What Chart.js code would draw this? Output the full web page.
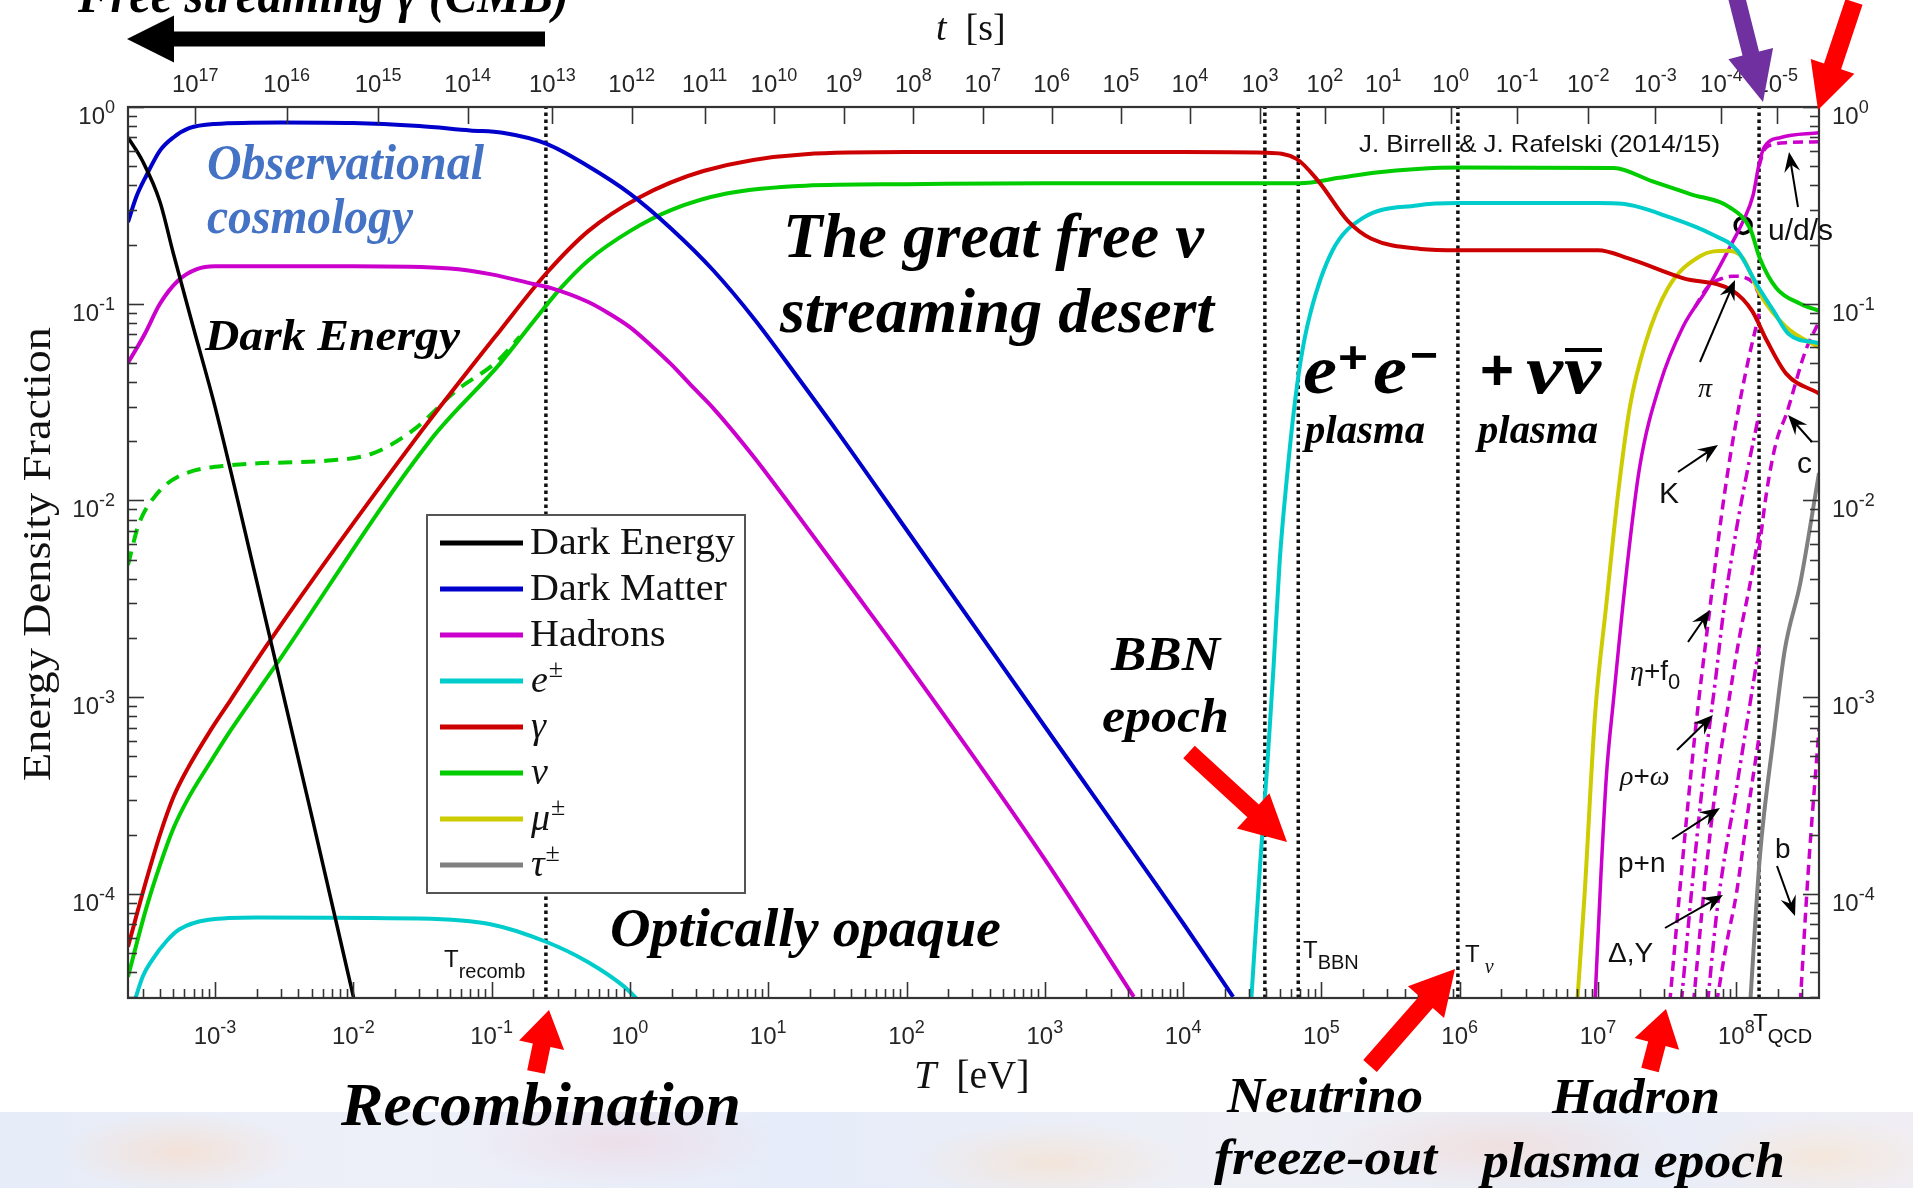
<!DOCTYPE html>
<html>
<head>
<meta charset="utf-8">
<title>Energy density fraction of the Universe</title>
<script src="https://cdn.jsdelivr.net/npm/chart.js@4.4.1/dist/chart.umd.min.js"></script>
<style>
  html, body { margin: 0; padding: 0; background: #fff; }
  #wrap { position: relative; width: 1913px; height: 1188px; overflow: hidden; }
  #cmb { position: absolute; left: 0; top: 1112px; width: 1913px; height: 76px;
    background:
      radial-gradient(ellipse 120px 40px at 180px 40px, rgba(250,215,190,0.55), rgba(250,215,190,0) 100%),
      radial-gradient(ellipse 160px 45px at 620px 30px, rgba(240,205,215,0.45), rgba(240,205,215,0) 100%),
      radial-gradient(ellipse 140px 40px at 1050px 50px, rgba(250,220,190,0.5), rgba(250,220,190,0) 100%),
      radial-gradient(ellipse 180px 45px at 1500px 35px, rgba(245,210,200,0.5), rgba(245,210,200,0) 100%),
      radial-gradient(ellipse 120px 40px at 1820px 45px, rgba(250,225,195,0.5), rgba(250,225,195,0) 100%),
      linear-gradient(90deg, #e6ecf8 0%, #eef0f8 20%, #e6ecf9 42%, #eff0f6 66%, #e8edf8 84%, #f0eef4 100%); }
  #chart { position: absolute; left: 0; top: 0; }
</style>
</head>
<body>
<div id="wrap">
  <div id="cmb"></div>
  <canvas id="chart" width="1913" height="1188"></canvas>
</div>
<script>
const SANS = '"Liberation Sans", Arial, sans-serif';
const SERIF = '"Liberation Serif", "Times New Roman", serif';

// axis ranges
const tMin = 2.35e-4, tMax = 3.96e8;
const fMin = 2.96e-5, fMax = 1;

// tick labels (exponents of ten)
const xExps = [-3, -2, -1, 0, 1, 2, 3, 4, 5, 6, 7, 8];
const yExps = [0, -1, -2, -3, -4];
// time axis: t = 10^exp seconds, placed at temperature T (eV)
const timeExps = [17, 16, 15, 14, 13, 12, 11, 10, 9, 8, 7, 6, 5, 4, 3, 2, 1, 0, -1, -2, -3, -4, -5];
const timeAtT = [7.2e-4, 3.3e-3, 0.0151, 0.067, 0.275, 1.03, 3.47, 11, 35.3, 112, 356, 1120, 3550,
  1.12e4, 3.6e4, 1.06e5, 2.8e5, 8.6e5, 2.6e6, 8.5e6, 2.6e7, 7.8e7, 1.96e8];

// epoch markers (T in eV)
const markT = [0.247, 3.9e4, 6.8e4, 9.7e5, 1.46e8];

// Dark energy
const deT = [2.35e-4, 3e-4, 4e-4, 5e-4, 7e-4, 1e-3, 2e-3, 5e-3, 1.05e-2];
const deY = [0.70, 0.53, 0.33, 0.18, 0.075, 0.030, 0.0039, 2.5e-4, 2.6e-5];

// Dark matter
const dmT = [2.35e-4, 2.7e-4, 3.2e-4, 4e-4, 5e-4, 6.5e-4, 1e-3, 3e-3, 0.01, 0.03, 0.07, 0.12, 0.25, 0.5, 1, 2, 4, 8, 15.8, 31.6, 100, 1e3, 1e4, 2.3e4];
const dmY = [0.26, 0.35, 0.45, 0.60, 0.70, 0.78, 0.82, 0.835, 0.83, 0.80, 0.76, 0.74, 0.65, 0.50, 0.363, 0.24, 0.148, 0.083, 0.0437, 0.0224, 7.1e-3, 7.1e-4, 7.1e-5, 3e-5];

// Hadrons (late universe)
const hadT = [2.35e-4, 3.1e-4, 4e-4, 5.4e-4, 7.4e-4, 1e-3, 0.01, 0.05, 0.1, 0.2, 0.27, 0.5, 0.71, 1, 1.41, 2, 2.82, 4, 7.9, 15.8, 40, 100, 1e3, 4.4e3];
const hadY = [0.05, 0.07, 0.10, 0.131, 0.15, 0.155, 0.155, 0.151, 0.141, 0.126, 0.12, 0.102, 0.089, 0.076, 0.0617, 0.049, 0.038, 0.0295, 0.0166, 8.7e-3, 3.6e-3, 1.5e-3, 1.5e-4, 3e-5];

// e+- (late, residual electrons)
const eLowT = [2.6e-4, 3e-4, 3.5e-4, 4.5e-4, 5.5e-4, 9e-4, 2e-3, 0.03, 0.1, 0.25, 0.5, 0.9, 1.2];
const eLowY = [2.8e-5, 3.8e-5, 4.6e-5, 5.8e-5, 6.6e-5, 7.4e-5, 7.6e-5, 7.5e-5, 7e-5, 5.7e-5, 4.5e-5, 3.4e-5, 2.8e-5];

// e+- (plasma)
const eHiT = [3.1e4, 3.6e4, 4.1e4, 4.5e4, 5e4, 5.6e4, 6.3e4, 7.1e4, 8.3e4, 1.2e5, 2e5, 4.9e5, 1e6, 1e7, 1.5e7, 3.4e7, 6.6e7, 1.02e8, 1.41e8, 1.86e8, 2.4e8, 3.96e8];
const eHiY = [2.8e-5, 1.4e-4, 5e-4, 1.4e-3, 5e-3, 0.0126, 0.028, 0.052, 0.089, 0.186, 0.273, 0.316, 0.325, 0.325, 0.322, 0.273, 0.226, 0.186, 0.125, 0.092, 0.07, 0.063];

// photons
const gamT = [2.35e-4, 3.16e-4, 4e-4, 5e-4, 6.3e-4, 9.3e-4, 1.3e-3, 2.45e-3, 0.0277, 0.115, 0.247, 0.5, 1.15, 3.4, 18.6, 100, 1e3, 1e4, 3.9e4, 6.6e4, 9.5e4, 1.55e5, 2.3e5, 5.2e5, 1e6, 1e7, 1.66e7, 4.1e7, 9.5e7, 1.3e8, 1.66e8, 2.3e8, 3.96e8];
const gamY = [5.4e-5, 1.15e-4, 2e-4, 3.1e-4, 4.3e-4, 6.8e-4, 9.7e-4, 1.9e-3, 0.0202, 0.073, 0.142, 0.234, 0.345, 0.473, 0.576, 0.59, 0.59, 0.59, 0.586, 0.545, 0.42, 0.264, 0.214, 0.19, 0.187, 0.187, 0.17, 0.135, 0.116, 0.092, 0.065, 0.044, 0.035];

// neutrinos
const nuT = [2.35e-4, 3.16e-4, 4e-4, 5e-4, 6.3e-4, 9.3e-4, 1.3e-3, 2.65e-3, 0.036, 0.115, 0.2, 0.316, 0.5, 1, 2, 5, 18.6, 100, 1e3, 1e4, 7e4, 1.35e5, 2.5e5, 4.9e5, 1e6, 1.3e7, 2.45e7, 4.7e7, 8.9e7, 1.26e8, 1.48e8, 1.95e8, 2.9e8, 3.96e8];
const nuY = [3.8e-5, 8.3e-5, 1.4e-4, 2.15e-4, 3.0e-4, 4.7e-4, 6.8e-4, 1.4e-3, 0.0202, 0.0496, 0.081, 0.12, 0.166, 0.234, 0.30, 0.363, 0.398, 0.405, 0.41, 0.41, 0.41, 0.437, 0.465, 0.484, 0.492, 0.49, 0.42, 0.36, 0.31, 0.24, 0.17, 0.12, 0.10, 0.092];

// neutrinos with mass (dashed)
const nuMT = [2.35e-4, 2.8e-4, 3.8e-4, 5.4e-4, 1.3e-3, 7e-3, 0.014, 0.028, 0.055, 0.11, 0.16];
const nuMY = [4.7e-3, 7.5e-3, 0.0108, 0.0132, 0.0151, 0.016, 0.0174, 0.0232, 0.036, 0.051, 0.068];

// muons
const muT = [7.07e6, 8e6, 9.5e6, 1.15e7, 1.4e7, 1.7e7, 2.2e7, 3.2e7, 5.5e7, 8.5e7, 1.12e8, 1.48e8, 2.3e8, 3.96e8];
const muY = [2.8e-5, 1e-4, 8e-4, 3e-3, 0.011, 0.03, 0.063, 0.12, 0.175, 0.186, 0.17, 0.112, 0.076, 0.06];

// taus
const tauT = [1.26e8, 1.48e8, 1.86e8, 2.24e8, 2.9e8, 3.96e8];
const tauY = [2.8e-5, 1.55e-4, 6.3e-4, 1.74e-3, 3.8e-3, 0.0138];

// hadrons / quarks (early universe)
const hqT = [9.5e6, 1.05e7, 1.15e7, 1.29e7, 1.62e7, 2e7, 2.8e7, 4.1e7, 6.2e7, 9.5e7, 1.12e8, 1.32e8, 1.45e8, 1.58e8, 2.1e8, 3.96e8];
const hqY = [2.8e-5, 1.26e-4, 4e-4, 9.5e-4, 4.6e-3, 0.0148, 0.039, 0.076, 0.12, 0.209, 0.263, 0.355, 0.5, 0.62, 0.70, 0.74];

// hadron species (dashed)
const piT = [5e7, 6.3e7, 8e7, 9.5e7, 1.15e8, 1.32e8, 1.46e8];
const piY = [0.096, 0.123, 0.135, 0.138, 0.136, 0.128, 0.112];
const kT = [3.3e7, 4e7, 5e7, 6.3e7, 7.9e7, 9.3e7, 1.17e8, 1.46e8];
const kY = [2.8e-5, 1.26e-4, 6.3e-4, 2.5e-3, 8.9e-3, 0.019, 0.045, 0.089];
const etaT = [4e7, 4.8e7, 5.9e7, 7.1e7, 8.1e7, 1e8, 1.2e8, 1.46e8];
const etaY = [2.8e-5, 1.12e-4, 4.5e-4, 1.26e-3, 2.75e-3, 7.1e-3, 0.0141, 0.0275];
const rhoT = [4.9e7, 5.9e7, 7.1e7, 8.5e7, 1.05e8, 1.26e8, 1.46e8];
const rhoY = [2.8e-5, 1.12e-4, 3.5e-4, 8.1e-4, 2e-3, 3.8e-3, 6.8e-3];
const pnT = [6.2e7, 7.2e7, 8.3e7, 9.5e7, 1.15e8, 1.46e8];
const pnY = [2.8e-5, 7.9e-5, 1.6e-4, 2.75e-4, 6.3e-4, 1.8e-3];
const delT = [7.2e7, 8.5e7, 1e8, 1.2e8, 1.46e8];
const delY = [2.8e-5, 5.6e-5, 1e-4, 2.5e-4, 6.3e-4];

// quark species (dashed)
const udsT = [1.46e8, 1.58e8, 1.86e8, 2.4e8, 3.96e8];
const udsY = [0.5, 0.6, 0.645, 0.66, 0.665];
const cT = [1.46e8, 1.66e8, 1.95e8, 2.3e8, 3.16e8, 3.96e8];
const cY = [5.6e-3, 0.0112, 0.02, 0.0275, 0.0575, 0.081];
const bT = [2.9e8, 3.3e8, 3.96e8];
const bY = [2.8e-5, 1.26e-4, 6.9e-4];

// QCD transition point marker
const qcdPointT = 1.12e8, qcdPointY = 0.25;

const C = {de: '#000000', dm: '#0000cc', had: '#cc00cc', ee: '#00cccc', gam: '#cc0000', nu: '#00cc00', mu: '#cccc00', tau: '#808080'};

function pts(xs, ys) { return xs.map((x, i) => ({x: x, y: ys[i]})); }

function curve(label, xs, ys, color, dash, width) {
  return {
    type: 'line', label: label, data: pts(xs, ys),
    borderColor: color, borderWidth: width || 4, borderDash: dash || [],
    pointRadius: 0, fill: false, cubicInterpolationMode: 'monotone'
  };
}

const dsets = [
  curve('Dark Energy', deT, deY, C.de, [], 3.5),
  curve('Dark Matter', dmT, dmY, C.dm),
  curve('Hadrons', hadT, hadY, C.had),
  curve('e±', eLowT, eLowY, C.ee),
  curve('γ', gamT, gamY, C.gam),
  curve('ν', nuT, nuY, C.nu),
  curve('ν massive', nuMT, nuMY, C.nu, [14, 9]),
  curve('e± plasma', eHiT, eHiY, C.ee),
  curve('μ±', muT, muY, C.mu),
  curve('τ±', tauT, tauY, C.tau),
  curve('hadrons/quarks', hqT, hqY, C.had, [], 3.5),
  curve('π', piT, piY, C.had, [10, 6], 3.5),
  curve('K', kT, kY, C.had, [10, 6], 3.5),
  curve('η+f0', etaT, etaY, C.had, [12, 5, 3, 5], 3.5),
  curve('ρ+ω', rhoT, rhoY, C.had, [10, 6], 3.5),
  curve('p+n', pnT, pnY, C.had, [12, 5, 3, 5], 3.5),
  curve('Δ,Y', delT, delY, C.had, [10, 6], 3.5),
  curve('u/d/s', udsT, udsY, C.had, [10, 6], 3.5),
  curve('c', cT, cY, C.had, [10, 6], 3.5),
  curve('b', bT, bY, C.had, [10, 6], 3.5)
];
markT.forEach(t => {
  dsets.push({type: 'line', label: 'marker', data: [{x: t, y: fMin}, {x: t, y: fMax}],
    borderColor: '#111', borderWidth: 3.5, borderDash: [3.5, 3.5], pointRadius: 0, tension: 0});
});
dsets.push({type: 'scatter', label: 'QCD', data: [{x: qcdPointT, y: qcdPointY}],
  pointRadius: 8, pointBorderWidth: 3.5, pointBorderColor: '#000', pointBackgroundColor: 'rgba(0,0,0,0)'});

// ---------- drawing helpers ----------
function text(ctx, s, x, y, font, color, w, align) {
  ctx.save();
  ctx.font = font;
  ctx.fillStyle = color || '#000';
  ctx.textBaseline = 'alphabetic';
  ctx.textAlign = 'left';
  const m = ctx.measureText(s).width;
  const k = w ? w / m : 1;
  const x0 = align === 'center' ? x - m * k / 2 : align === 'right' ? x - m * k : x;
  ctx.translate(x0, y);
  ctx.scale(k, 1);
  ctx.fillText(s, 0, 0);
  ctx.restore();
  return x0 + m * k;
}

function runs(ctx, x, y, list, color) {
  let cx = x;
  list.forEach(r => { cx = text(ctx, r[0], cx, y + (r[2] || 0), r[1], color); });
  return cx;
}

function pow10(ctx, exp, x, y, align) {
  const f1 = '24px ' + SANS, f2 = '18px ' + SANS;
  ctx.font = f1; const w1 = ctx.measureText('10').width;
  ctx.font = f2; const w2 = ctx.measureText(exp).width;
  const tot = w1 + w2;
  const x0 = align === 'center' ? x - tot / 2 : align === 'right' ? x - tot : x;
  text(ctx, '10', x0, y, f1, '#262626');
  text(ctx, exp, x0 + w1, y - 11, f2, '#262626');
}

function fatArrow(ctx, x1, y1, x2, y2, sw, hw, hl, color) {
  const a = Math.atan2(y2 - y1, x2 - x1), L = Math.hypot(x2 - x1, y2 - y1);
  ctx.save();
  ctx.translate(x1, y1); ctx.rotate(a);
  ctx.beginPath();
  ctx.moveTo(0, -sw / 2); ctx.lineTo(L - hl, -sw / 2); ctx.lineTo(L - hl, -hw / 2);
  ctx.lineTo(L, 0); ctx.lineTo(L - hl, hw / 2); ctx.lineTo(L - hl, sw / 2); ctx.lineTo(0, sw / 2);
  ctx.closePath();
  ctx.fillStyle = color; ctx.fill();
  ctx.restore();
}

function thinArrow(ctx, x1, y1, x2, y2) {
  const a = Math.atan2(y2 - y1, x2 - x1);
  ctx.save();
  ctx.strokeStyle = '#000'; ctx.fillStyle = '#000'; ctx.lineWidth = 2;
  ctx.beginPath(); ctx.moveTo(x1, y1); ctx.lineTo(x2 - 10 * Math.cos(a), y2 - 10 * Math.sin(a)); ctx.stroke();
  ctx.translate(x2, y2); ctx.rotate(a);
  ctx.beginPath(); ctx.moveTo(0, 0); ctx.lineTo(-20, -8); ctx.lineTo(-13, 0); ctx.lineTo(-20, 8); ctx.closePath(); ctx.fill();
  ctx.restore();
}

const legendNames = ['Dark Energy', 'Dark Matter', 'Hadrons', 'e', 'γ', 'ν', 'μ', 'τ'];
const legendSup = ['', '', '', '±', '', '', '±', '±'];
const legendColors = [C.de, C.dm, C.had, C.ee, C.gam, C.nu, C.mu, C.tau];

const decor = {
  id: 'decor',
  afterDatasetsDraw(chart) {
    const ctx = chart.ctx, a = chart.chartArea;
    const xs = chart.scales.x, ys = chart.scales.y;
    ctx.save();

    // inward tick marks
    ctx.strokeStyle = '#333'; ctx.lineWidth = 1.6;
    for (let e = -4; e <= 8; e++) {
      for (let k = 1; k <= 9; k++) {
        const v = k * Math.pow(10, e);
        if (v < tMin || v > tMax) continue;
        const px = Math.round(xs.getPixelForValue(v)) + 0.5;
        const len = k === 1 ? 16 : 9;
        ctx.beginPath(); ctx.moveTo(px, a.bottom); ctx.lineTo(px, a.bottom - len); ctx.stroke();
      }
    }
    for (let e = -5; e <= 0; e++) {
      for (let k = 1; k <= 9; k++) {
        const v = k * Math.pow(10, e);
        if (v < fMin || v > fMax) continue;
        const py = Math.round(ys.getPixelForValue(v)) + 0.5;
        const len = k === 1 ? 16 : 9;
        ctx.beginPath(); ctx.moveTo(a.left, py); ctx.lineTo(a.left + len, py); ctx.stroke();
        ctx.beginPath(); ctx.moveTo(a.right, py); ctx.lineTo(a.right - len, py); ctx.stroke();
      }
    }
    timeAtT.forEach(t => {
      const px = Math.round(xs.getPixelForValue(t)) + 0.5;
      ctx.beginPath(); ctx.moveTo(px, a.top); ctx.lineTo(px, a.top + 17); ctx.stroke();
    });
    ctx.lineWidth = 2.2; ctx.strokeStyle = '#333';
    ctx.strokeRect(a.left, a.top, a.right - a.left, a.bottom - a.top);

    // tick labels
    xExps.forEach(e => pow10(ctx, String(e), xs.getPixelForValue(Math.pow(10, e)), a.bottom + 46, 'center'));
    yExps.forEach(e => {
      const py = ys.getPixelForValue(Math.pow(10, e));
      pow10(ctx, String(e), a.left - 13, py + 17, 'right');
      pow10(ctx, String(e), a.right + 13, py + 17, 'left');
    });
    timeExps.forEach((e, i) => pow10(ctx, String(e), xs.getPixelForValue(timeAtT[i]), a.top - 15, 'center'));

    // axis titles
    runs(ctx, 936, 40, [['t', 'italic 38px ' + SERIF], ['  [s]', '38px ' + SERIF]], '#111');
    runs(ctx, 914, 1088, [['T', 'italic 40px ' + SERIF], ['  [eV]', '40px ' + SERIF]], '#111');
    ctx.save();
    ctx.translate(50, 554); ctx.rotate(-Math.PI / 2);
    text(ctx, 'Energy Density Fraction', 0, 0, '40px ' + SERIF, '#111', 454, 'center');
    ctx.restore();

    // legend
    ctx.fillStyle = '#fff';
    ctx.fillRect(427, 515, 318, 378);
    ctx.strokeStyle = '#555'; ctx.lineWidth = 2;
    ctx.strokeRect(427, 515, 318, 378);
    ctx.font = '38px ' + SERIF;
    const lk = 205 / ctx.measureText('Dark Energy').width;
    legendNames.forEach((n, i) => {
      const y = 543 + i * 46;
      ctx.strokeStyle = legendColors[i]; ctx.lineWidth = 5;
      ctx.beginPath(); ctx.moveTo(440, y); ctx.lineTo(523, y); ctx.stroke();
      if (i < 3) {
        ctx.font = '38px ' + SERIF;
        text(ctx, n, 530, y + 11, '38px ' + SERIF, '#111', ctx.measureText(n).width * lk);
      } else {
        const ex = text(ctx, n, 531, y + 11, 'italic 38px ' + SERIF, '#111');
        if (legendSup[i]) text(ctx, legendSup[i], ex + 1, y - 4, '26px ' + SERIF, '#111');
      }
    });

    // temperature markers
    runs(ctx, 444, 967, [['T', '24px ' + SANS], ['recomb', '20px ' + SANS, 11]], '#111');
    runs(ctx, 1303, 958, [['T', '24px ' + SANS], ['BBN', '20px ' + SANS, 11]], '#111');
    runs(ctx, 1465, 962, [['T', '24px ' + SANS], [' ν', 'italic 20px ' + SERIF, 11]], '#111');
    runs(ctx, 1753, 1031, [['T', '24px ' + SANS], ['QCD', '20px ' + SANS, 12]], '#111');
    text(ctx, 'J. Birrell & J. Rafelski (2014/15)', 1359, 152, '24px ' + SANS, '#111', 361);

    // particle labels + pointers
    text(ctx, 'u/d/s', 1768, 240, '30px ' + SANS, '#111');
    thinArrow(ctx, 1798, 207, 1789, 152);
    text(ctx, 'π', 1698, 397, 'italic 28px ' + SERIF, '#111');
    thinArrow(ctx, 1700, 362, 1735, 280);
    text(ctx, 'K', 1659, 503, '30px ' + SANS, '#111');
    thinArrow(ctx, 1678, 472, 1718, 445);
    text(ctx, 'c', 1797, 473, '30px ' + SANS, '#111');
    thinArrow(ctx, 1812, 442, 1788, 415);
    runs(ctx, 1630, 680, [['η', 'italic 28px ' + SERIF], ['+f', '28px ' + SANS], ['0', '22px ' + SANS, 9]], '#111');
    thinArrow(ctx, 1688, 642, 1710, 610);
    runs(ctx, 1620, 785, [['ρ', 'italic 28px ' + SERIF], ['+', '28px ' + SANS], ['ω', 'italic 28px ' + SERIF]], '#111');
    thinArrow(ctx, 1677, 750, 1713, 715);
    text(ctx, 'p+n', 1618, 872, '28px ' + SANS, '#111');
    thinArrow(ctx, 1672, 839, 1720, 808);
    text(ctx, 'Δ,Y', 1608, 962, '28px ' + SANS, '#111');
    thinArrow(ctx, 1665, 928, 1723, 895);
    text(ctx, 'b', 1775, 858, '28px ' + SANS, '#111');
    thinArrow(ctx, 1777, 866, 1795, 916);

    // big annotations
    const BI = 'bold italic ';
    text(ctx, 'Free streaming γ (CMB)', 78, 12, BI + '52px ' + SERIF, '#000', 491);
    fatArrow(ctx, 545, 39, 127, 39, 15, 47, 47, '#000');
    text(ctx, 'Observational', 207, 179, BI + '50px ' + SERIF, '#4472c4', 277);
    text(ctx, 'cosmology', 207, 233, BI + '50px ' + SERIF, '#4472c4', 206);
    text(ctx, 'Dark Energy', 205, 350, BI + '45px ' + SERIF, '#000', 255);
    text(ctx, 'The great free ν', 783, 257, BI + '63px ' + SERIF, '#000', 421);
    text(ctx, 'streaming desert', 780, 332, BI + '63px ' + SERIF, '#000', 434);
    // e+ e- plasma
    text(ctx, 'e', 1303, 393, BI + '70px ' + SERIF, '#000', 34);
    text(ctx, '+', 1338, 373, 'bold 44px ' + SANS, '#000', 30);
    text(ctx, 'e', 1373, 393, BI + '70px ' + SERIF, '#000', 34);
    text(ctx, '\u2212', 1410, 370, 'bold 44px ' + SANS, '#000', 28);
    // + nu nubar
    text(ctx, '+', 1480, 390, 'bold 58px ' + SANS, '#000', 34);
    text(ctx, 'ν', 1526, 393, BI + '70px ' + SERIF, '#000', 37);
    text(ctx, 'ν', 1564, 393, BI + '70px ' + SERIF, '#000', 37);
    ctx.fillStyle = '#000'; ctx.fillRect(1565, 348, 37, 4);
    text(ctx, 'plasma', 1305, 443, BI + '40px ' + SERIF, '#000', 120);
    text(ctx, 'plasma', 1478, 443, BI + '40px ' + SERIF, '#000', 120);
    text(ctx, 'BBN', 1111, 670, BI + '48px ' + SERIF, '#000', 109);
    text(ctx, 'epoch', 1102, 732, BI + '48px ' + SERIF, '#000', 127);
    text(ctx, 'Optically opaque', 610, 946, BI + '54px ' + SERIF, '#000', 391);
    text(ctx, 'Recombination', 341, 1125, BI + '62px ' + SERIF, '#000', 400);
    text(ctx, 'Neutrino', 1227, 1112, BI + '50px ' + SERIF, '#000', 196);
    text(ctx, 'freeze-out', 1214, 1174, BI + '50px ' + SERIF, '#000', 223);
    text(ctx, 'Hadron', 1552, 1113, BI + '50px ' + SERIF, '#000', 168);
    text(ctx, 'plasma epoch', 1482, 1177, BI + '50px ' + SERIF, '#000', 303);

    // coloured pointers
    fatArrow(ctx, 1189, 752, 1287, 842, 17, 48, 46, '#ff0000');
    fatArrow(ctx, 536, 1072, 549, 1010, 18, 46, 36, '#ff0000');
    fatArrow(ctx, 1370, 1066, 1455, 969, 18, 48, 44, '#ff0000');
    fatArrow(ctx, 1650, 1070, 1666, 1009, 18, 46, 36, '#ff0000');
    fatArrow(ctx, 1736, -5, 1763, 102, 17, 46, 50, '#7030a0');
    fatArrow(ctx, 1854, 2, 1818, 110, 18, 46, 46, '#ff0000');

    ctx.restore();
  }
};

new Chart(document.getElementById('chart'), {
  data: {datasets: dsets},
  options: {
    responsive: false,
    animation: false,
    layout: {padding: {top: 107, right: 94, left: 0, bottom: 0}},
    plugins: {legend: {display: false}, tooltip: {enabled: false}},
    scales: {
      x: {
        type: 'logarithmic', position: 'bottom', min: tMin, max: tMax,
        grid: {display: false}, border: {display: false}, ticks: {display: false},
        afterFit(s) { s.height = 190; }
      },
      y: {
        type: 'logarithmic', position: 'left', min: fMin, max: fMax,
        grid: {display: false}, border: {display: false}, ticks: {display: false},
        afterFit(s) { s.width = 128; }
      }
    }
  },
  plugins: [decor]
});
</script>
</body>
</html>
